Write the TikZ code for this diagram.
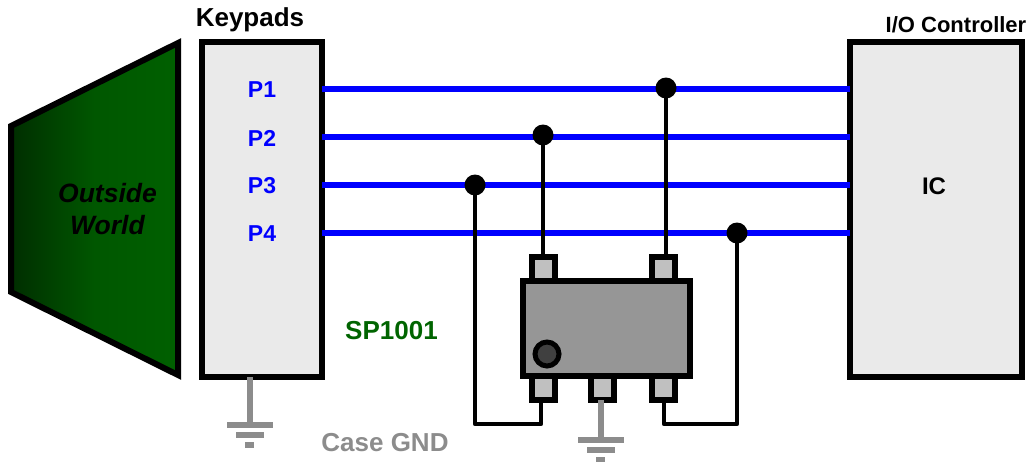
\documentclass[tikz,border=0pt]{standalone}
\usepackage{fontspec}
\setmainfont{Liberation Sans}
\usetikzlibrary{positioning,calc}

\definecolor{panelgray}{HTML}{EAEAEA}
\definecolor{chipgray}{HTML}{969696}
\definecolor{pingray}{HTML}{C0C0C0}
\definecolor{gndgray}{HTML}{8C8C8C}
\definecolor{holegray}{HTML}{404040}
\definecolor{worlddark}{HTML}{002E00}
\definecolor{worldgreen}{HTML}{006000}
\definecolor{partgreen}{HTML}{006400}

\tikzset{
  box/.style={draw, line width=6pt, fill=panelgray, inner sep=0pt, outer sep=0pt},
  lbl/.style={font=\bfseries\fontsize{26}{30}\selectfont, inner sep=0pt},
  port/.style={font=\bfseries\fontsize{23}{27}\selectfont, text=blue, inner sep=0pt},
  bus/.style={draw=blue, line width=6pt},
  tap/.style={circle, fill=black, minimum size=21pt, inner sep=0pt},
  wire/.style={draw, line width=4.7pt, line join=round},
  pinbox/.style={draw, line width=6pt, fill=pingray, minimum width=23pt, minimum height=24pt, inner sep=0pt, outer sep=0pt},
  gndline/.style={draw=gndgray, line width=6pt},
  gndbar/.style={fill=gndgray, inner sep=0pt, outer sep=0pt, minimum height=6pt}
}

\begin{document}
\begin{tikzpicture}[x=1pt,y=-1pt]
  \useasboundingbox (0,0) rectangle (1029,461);

  % outside world
  \draw[line width=6pt, miter limit=10, left color=worlddark, right color=worldgreen, middle color=worldgreen!82!worlddark]
    (11,126) -- (178,43) -- (178,375) -- (11,292) -- cycle;
  \node[font=\bfseries\itshape\fontsize{26.5}{32}\selectfont, align=center, inner sep=0pt] (world) at (107.5,209) {Outside\\World};

  % keypads and controller
  \node[box, minimum width=120pt, minimum height=335pt] (keypads) at (262,209.5) {};
  \node[box, minimum width=172pt, minimum height=335pt] (ic) at (936,209.5) {};
  \node[lbl, font=\bfseries\fontsize{24}{28}\selectfont] (iclabel) at (934,186) {IC};
  \node[lbl] (keypadslabel) at (250,20) {Keypads};
  \node[lbl, font=\bfseries\fontsize{22}{26}\selectfont] (ctrllabel) at (956,25) {I/O Controller};

  % ports
  \node[port] (p1) at (262,90) {P1};
  \node[port] (p2) at (262,138) {P2};
  \node[port] (p3) at (262,186) {P3};
  \node[port] (p4) at (262,234) {P4};

  % bus lines
  \coordinate (bus1) at (262,89);
  \coordinate (bus2) at (262,137);
  \coordinate (bus3) at (262,185);
  \coordinate (bus4) at (262,233);
  \draw[bus] (keypads.east |- bus1) -- (ic.west |- bus1);
  \draw[bus] (keypads.east |- bus2) -- (ic.west |- bus2);
  \draw[bus] (keypads.east |- bus3) -- (ic.west |- bus3);
  \draw[bus] (keypads.east |- bus4) -- (ic.west |- bus4);

  % device
  \node[pinbox] (pintl) at (543.5,269) {};
  \node[pinbox] (pintr) at (663.5,269) {};
  \node[pinbox] (pinbl) at (543.5,388) {};
  \node[pinbox] (pinbm) at (602.5,388) {};
  \node[pinbox] (pinbr) at (663.5,388) {};
  \node[draw, line width=6pt, fill=chipgray, minimum width=167pt, minimum height=95pt, inner sep=0pt, outer sep=0pt] (chip) at (606.5,328.5) {};
  \node[circle, draw, line width=5pt, fill=holegray, minimum size=24pt, inner sep=0pt] (pinone) at (547,354) {};
  \node[lbl, text=partgreen] (partname) at (391.5,331) {SP1001};

  % taps
  \node[tap] (tap1) at (666,88) {};
  \node[tap] (tap2) at (543,135) {};
  \node[tap] (tap3) at (475,185) {};
  \node[tap] (tap4) at (737,233) {};
  \coordinate (wireleft) at (541,424);
  \coordinate (wireright) at (664,424);

  \draw[wire] (tap1.center) -- (tap1 |- pintr.north);
  \draw[wire] (tap2.center) -- (tap2 |- pintl.north);
  \draw[wire] (tap3.center) |- (wireleft) -- (pinbl.south -| wireleft);
  \draw[wire] (tap4.center) |- (wireright) -- (pinbr.south -| wireright);

  % grounds
  \node[gndbar, minimum width=46pt] (gndk1) at (249.5,425) {};
  \node[gndbar, minimum width=28pt, below=4pt of gndk1] (gndk2) {};
  \node[gndbar, minimum width=9pt, below=4pt of gndk2] (gndk3) {};
  \draw[gndline] (keypads.south -| gndk1) -- (gndk1);
  \node[gndbar, minimum width=46pt] (gndc1) at (600.5,440) {};
  \node[gndbar, minimum width=28pt, below=4pt of gndc1] (gndc2) {};
  \node[gndbar, minimum width=9pt, below=4pt of gndc2] (gndc3) {};
  \draw[gndline] (pinbm.south -| gndc1) -- (gndc1);
  \node[lbl, text=gndgray] (caselabel) at (385,443) {Case GND};
\end{tikzpicture}
\end{document}
